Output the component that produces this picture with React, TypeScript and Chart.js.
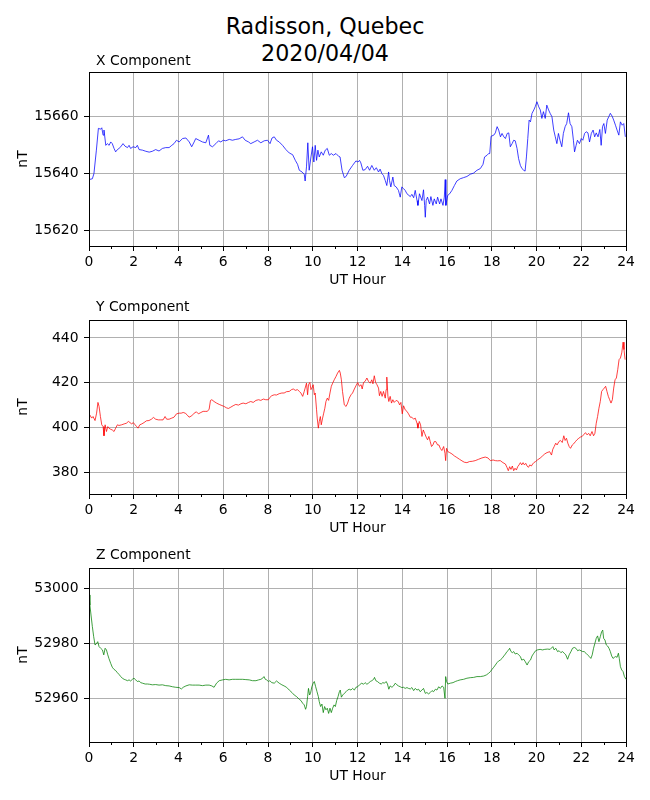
import { useEffect, useRef } from "react";
import { Chart, registerables } from "chart.js";

Chart.register(...registerables);

const FONT = "'DejaVu Sans', sans-serif";

// hour axis: labelled major ticks and unlabelled minor ticks
const hourTicks = [0, 2, 4, 6, 8, 10, 12, 14, 16, 18, 20, 22, 24];
const minorHourTicks = [1, 3, 5, 7, 9, 11, 13, 15, 17, 19, 21, 23];

const xTicks = [15620, 15640, 15660];
const yTicks = [380, 400, 420, 440];
const zTicks = [52960, 52980, 53000];

// [UT hour, nT]
const xComponent: [number, number][] = [
  [0, 15637.8], [0.15, 15638.1], [0.22, 15639.9], [0.33, 15648.2], [0.42, 15655.9], [0.52, 15655.6],
  [0.57, 15656.1], [0.63, 15653.5], [0.67, 15655.3], [0.75, 15649.9], [0.82, 15650.5], [0.9, 15649.9],
  [0.97, 15651.1], [1.04, 15650.5], [1.12, 15648.8], [1.19, 15647.6], [1.27, 15648.4], [1.34, 15648.8],
  [1.42, 15649.4], [1.52, 15650.5], [1.61, 15649.6], [1.72, 15649.1], [1.79, 15649.9], [1.86, 15648.8],
  [1.97, 15649.4], [2.09, 15649.1], [2.16, 15649.9], [2.24, 15648.4], [2.39, 15648.2], [2.54, 15647.8],
  [2.69, 15647.5], [2.83, 15647.8], [2.98, 15648.4], [3.13, 15647.9], [3.28, 15648.8], [3.43, 15649.1],
  [3.58, 15649.1], [3.7, 15649.9], [3.8, 15650.5], [3.91, 15651.7], [4.03, 15651.1], [4.18, 15652.3],
  [4.33, 15652.5], [4.48, 15651.1], [4.59, 15649.4], [4.7, 15651.1], [4.77, 15652.3], [4.92, 15651.7],
  [5.07, 15651.1], [5.22, 15650.8], [5.34, 15653.5], [5.4, 15649.9], [5.52, 15649.4], [5.67, 15650.5],
  [5.79, 15651.5], [5.89, 15651.1], [6, 15651.7], [6.11, 15651.5], [6.27, 15652.0], [6.41, 15651.7],
  [6.56, 15652.0], [6.71, 15652.2], [6.86, 15652.9], [6.98, 15651.7], [7.13, 15651.1], [7.23, 15650.5],
  [7.38, 15651.1], [7.53, 15651.7], [7.68, 15650.8], [7.83, 15651.5], [7.98, 15651.7], [8.09, 15650.5],
  [8.18, 15652.5], [8.28, 15652.9], [8.38, 15651.7], [8.5, 15651.1], [8.65, 15649.9], [8.8, 15648.4],
  [8.95, 15647.2], [9.1, 15646.6], [9.22, 15644.6], [9.32, 15643.2], [9.4, 15641.1], [9.52, 15640.5],
  [9.62, 15639.7], [9.66, 15637.3], [9.72, 15642.3], [9.78, 15650.8], [9.84, 15641.1], [9.92, 15645.8],
  [9.99, 15649.4], [10.05, 15644.0], [10.11, 15649.9], [10.17, 15644.6], [10.23, 15648.2], [10.29, 15645.8],
  [10.38, 15647.6], [10.47, 15646.4], [10.56, 15648.2], [10.65, 15648.8], [10.74, 15646.4], [10.83, 15647.0],
  [10.92, 15646.4], [11.04, 15647.0], [11.16, 15646.0], [11.22, 15645.8], [11.31, 15641.1], [11.41, 15638.5],
  [11.49, 15638.9], [11.63, 15641.1], [11.78, 15642.8], [11.93, 15644.4], [12.02, 15644.0], [12.09, 15644.6],
  [12.15, 15643.7], [12.24, 15641.1], [12.34, 15641.3], [12.45, 15642.5], [12.54, 15641.1], [12.64, 15642.8],
  [12.75, 15641.1], [12.84, 15642.0], [12.94, 15640.5], [13.01, 15641.5], [13.09, 15639.9], [13.16, 15639.3],
  [13.24, 15637.5], [13.31, 15635.7], [13.39, 15640.5], [13.43, 15637.5], [13.49, 15635.2], [13.58, 15638.7],
  [13.64, 15635.7], [13.73, 15635.2], [13.83, 15634.0], [13.91, 15631.6], [13.98, 15635.2], [14.06, 15634.6],
  [14.13, 15634.0], [14.21, 15632.8], [14.36, 15631.8], [14.43, 15632.6], [14.51, 15631.4], [14.58, 15634.0],
  [14.66, 15630.4], [14.7, 15628.7], [14.77, 15632.8], [14.88, 15630.4], [14.95, 15634.2], [15, 15628.7],
  [15.03, 15624.5], [15.07, 15630.4], [15.13, 15631.6], [15.22, 15629.2], [15.28, 15631.8], [15.37, 15628.7],
  [15.43, 15631.0], [15.52, 15629.2], [15.58, 15631.6], [15.67, 15629.2], [15.73, 15631.0], [15.82, 15628.7],
  [15.88, 15631.6], [15.92, 15637.8], [15.95, 15628.7], [16.03, 15632.2], [16.12, 15632.8], [16.22, 15634.0],
  [16.33, 15635.7], [16.44, 15637.3], [16.59, 15638.1], [16.74, 15638.5], [16.89, 15638.9], [17.04, 15639.7],
  [17.19, 15640.1], [17.34, 15641.1], [17.49, 15641.7], [17.61, 15643.2], [17.68, 15645.8], [17.79, 15646.4],
  [17.86, 15647.0], [17.91, 15647.0], [17.97, 15653.1], [18.09, 15653.5], [18.16, 15654.3], [18.24, 15656.5],
  [18.31, 15655.3], [18.39, 15652.9], [18.46, 15654.1], [18.54, 15652.9], [18.61, 15652.3], [18.69, 15654.1],
  [18.76, 15654.3], [18.83, 15649.4], [18.91, 15650.5], [18.98, 15651.7], [19.05, 15651.5], [19.13, 15648.8],
  [19.2, 15645.2], [19.28, 15642.8], [19.35, 15641.7], [19.43, 15641.1], [19.49, 15640.8], [19.55, 15645.8],
  [19.61, 15652.3], [19.67, 15658.8], [19.73, 15658.2], [19.8, 15661.2], [19.88, 15662.4], [19.94, 15663.5],
  [20.02, 15665.3], [20.1, 15663.5], [20.17, 15662.4], [20.24, 15659.4], [20.31, 15661.8], [20.39, 15659.4],
  [20.46, 15664.1], [20.54, 15662.4], [20.61, 15661.2], [20.69, 15660.0], [20.77, 15655.3], [20.84, 15652.9],
  [20.91, 15650.5], [20.98, 15654.1], [21.05, 15651.7], [21.13, 15649.4], [21.2, 15654.1], [21.28, 15656.5],
  [21.35, 15657.6], [21.43, 15661.4], [21.5, 15657.6], [21.58, 15656.5], [21.65, 15651.7], [21.7, 15647.6],
  [21.77, 15649.9], [21.83, 15651.7], [21.92, 15650.5], [22, 15652.3], [22.07, 15651.7], [22.15, 15654.1],
  [22.22, 15654.7], [22.3, 15654.3], [22.37, 15651.1], [22.45, 15654.1], [22.53, 15655.3], [22.6, 15652.9],
  [22.67, 15654.3], [22.75, 15652.9], [22.83, 15655.5], [22.89, 15649.9], [22.95, 15656.5], [23.01, 15657.6],
  [23.08, 15654.1], [23.16, 15658.8], [23.23, 15660.0], [23.3, 15661.2], [23.38, 15660.2], [23.45, 15658.8],
  [23.53, 15657.0], [23.6, 15655.3], [23.68, 15653.5], [23.75, 15658.2], [23.83, 15657.0], [23.9, 15657.6],
  [23.97, 15652.9],
];

const yComponent: [number, number][] = [
  [0.03, 405.7], [0.12, 404.2], [0.18, 404.9], [0.27, 403.1], [0.34, 406.4], [0.4, 411.2],
  [0.45, 409.4], [0.51, 404.9], [0.57, 401.2], [0.63, 400.4], [0.67, 396.3], [0.72, 401.2],
  [0.78, 398.2], [0.84, 400.4], [0.89, 399.7], [0.97, 399.2], [1.04, 398.9], [1.12, 398.2],
  [1.19, 399.7], [1.27, 401.2], [1.34, 400.9], [1.46, 401.2], [1.57, 401.6], [1.67, 401.9],
  [1.76, 402.7], [1.83, 402.2], [1.91, 401.6], [1.98, 402.2], [2.06, 401.2], [2.13, 400.4],
  [2.19, 399.7], [2.27, 401.2], [2.36, 401.6], [2.46, 402.2], [2.57, 403.0], [2.68, 403.1],
  [2.79, 403.7], [2.88, 404.5], [2.98, 403.7], [3.1, 403.4], [3.21, 403.4], [3.31, 403.4],
  [3.4, 404.9], [3.47, 403.7], [3.58, 403.7], [3.7, 404.2], [3.8, 404.6], [3.91, 406.1],
  [4.03, 406.4], [4.12, 406.4], [4.21, 406.7], [4.3, 406.4], [4.38, 405.7], [4.47, 404.6],
  [4.59, 405.2], [4.7, 406.4], [4.8, 407.0], [4.89, 406.1], [5, 406.7], [5.1, 407.2],
  [5.19, 407.2], [5.29, 407.2], [5.37, 408.2], [5.43, 412.1], [5.49, 412.4], [5.59, 411.6],
  [5.7, 410.9], [5.82, 410.3], [5.94, 409.8], [6.04, 409.4], [6.14, 408.8], [6.23, 408.5],
  [6.34, 409.1], [6.44, 409.7], [6.56, 410.3], [6.68, 410.0], [6.79, 410.6], [6.89, 410.9],
  [7.01, 410.6], [7.13, 411.2], [7.23, 411.6], [7.34, 411.2], [7.46, 412.1], [7.58, 412.4],
  [7.68, 412.1], [7.79, 412.7], [7.9, 412.4], [8.02, 412.4], [8.08, 413.4], [8.17, 414.2],
  [8.28, 414.6], [8.38, 414.5], [8.5, 415.1], [8.62, 415.4], [8.72, 415.4], [8.83, 416.0],
  [8.95, 416.1], [9.05, 416.9], [9.13, 417.2], [9.22, 416.6], [9.32, 416.9], [9.4, 416.1],
  [9.47, 415.4], [9.55, 413.9], [9.62, 416.1], [9.66, 417.6], [9.72, 419.8], [9.77, 414.6],
  [9.81, 419.1], [9.87, 420.1], [9.92, 416.9], [9.96, 417.6], [10.02, 419.1], [10.07, 414.6],
  [10.11, 415.4], [10.17, 407.9], [10.2, 404.2], [10.25, 399.7], [10.29, 402.7], [10.34, 404.9],
  [10.38, 401.2], [10.44, 404.2], [10.49, 406.4], [10.54, 408.6], [10.59, 411.6], [10.65, 413.1],
  [10.71, 412.1], [10.77, 415.4], [10.83, 418.4], [10.89, 419.8], [10.96, 421.3], [11.04, 422.8],
  [11.11, 424.3], [11.19, 425.5], [11.23, 424.3], [11.28, 421.3], [11.33, 416.1], [11.41, 410.1],
  [11.49, 409.4], [11.56, 410.9], [11.63, 413.1], [11.71, 414.6], [11.78, 415.4], [11.86, 417.2],
  [11.93, 418.6], [12.01, 420.1], [12.08, 418.4], [12.16, 419.1], [12.21, 417.2], [12.27, 420.1],
  [12.34, 420.6], [12.42, 422.1], [12.49, 420.6], [12.57, 419.8], [12.64, 421.3], [12.69, 419.5],
  [12.75, 423.1], [12.81, 420.1], [12.87, 419.1], [12.94, 417.6], [12.98, 414.2], [13.04, 416.1],
  [13.1, 413.9], [13.16, 416.1], [13.24, 413.1], [13.28, 416.9], [13.31, 422.5], [13.36, 413.9],
  [13.4, 411.6], [13.46, 413.9], [13.52, 410.9], [13.58, 412.4], [13.64, 411.2], [13.73, 412.1],
  [13.82, 411.6], [13.88, 410.1], [13.94, 411.2], [14, 406.1], [14.06, 409.7], [14.13, 407.9],
  [14.21, 407.2], [14.28, 406.1], [14.36, 404.6], [14.43, 404.6], [14.51, 403.7], [14.58, 404.2],
  [14.66, 401.9], [14.7, 399.7], [14.76, 402.7], [14.82, 401.2], [14.88, 396.0], [14.94, 398.9],
  [15, 397.4], [15.07, 395.7], [15.13, 394.5], [15.19, 396.0], [15.25, 393.7], [15.31, 391.5],
  [15.37, 392.2], [15.43, 393.7], [15.5, 393.7], [15.58, 392.2], [15.64, 392.2], [15.7, 390.7],
  [15.77, 389.7], [15.85, 391.5], [15.91, 388.5], [15.94, 385.2], [15.98, 390.7], [16.04, 389.2],
  [16.12, 388.8], [16.22, 388.2], [16.33, 387.3], [16.44, 386.6], [16.56, 385.8], [16.67, 385.1],
  [16.77, 384.5], [16.89, 384.3], [17.01, 384.8], [17.13, 384.9], [17.26, 385.2], [17.41, 385.8],
  [17.56, 386.4], [17.71, 386.8], [17.83, 386.4], [17.94, 385.2], [18.06, 385.5], [18.16, 385.2],
  [18.26, 385.1], [18.38, 385.2], [18.5, 384.3], [18.61, 383.7], [18.68, 382.2], [18.74, 380.7],
  [18.8, 382.5], [18.86, 381.3], [18.92, 382.8], [18.98, 380.7], [19.04, 381.8], [19.1, 381.0],
  [19.16, 382.5], [19.22, 383.3], [19.28, 384.3], [19.34, 383.3], [19.4, 384.3], [19.46, 383.3],
  [19.52, 384.0], [19.58, 382.8], [19.64, 382.2], [19.7, 383.3], [19.77, 382.8], [19.83, 383.7],
  [19.88, 384.3], [19.96, 384.8], [20.04, 385.5], [20.16, 386.3], [20.27, 387.3], [20.37, 388.2],
  [20.47, 388.8], [20.59, 389.2], [20.67, 387.7], [20.73, 390.3], [20.79, 391.5], [20.86, 393.0],
  [20.92, 392.2], [21, 393.7], [21.07, 394.2], [21.15, 393.3], [21.22, 396.3], [21.28, 394.2],
  [21.34, 395.2], [21.4, 393.0], [21.46, 391.5], [21.52, 390.7], [21.6, 392.2], [21.66, 392.7],
  [21.74, 393.7], [21.81, 394.5], [21.89, 395.2], [21.96, 395.7], [22.04, 396.0], [22.1, 396.7],
  [22.19, 397.7], [22.26, 396.7], [22.33, 397.4], [22.4, 396.3], [22.48, 398.2], [22.55, 396.3],
  [22.61, 397.4], [22.67, 401.9], [22.73, 404.9], [22.79, 408.6], [22.85, 411.6], [22.91, 416.1],
  [22.97, 416.9], [23.03, 417.6], [23.09, 418.4], [23.15, 416.1], [23.21, 413.9], [23.27, 412.4],
  [23.33, 410.9], [23.39, 412.4], [23.45, 417.6], [23.51, 421.3], [23.57, 422.1], [23.63, 425.8],
  [23.69, 430.3], [23.75, 431.0], [23.81, 433.3], [23.87, 438.1], [23.91, 434.8], [23.96, 430.3],
];

const zComponent: [number, number][] = [
  [0, 52997.6], [0.04, 52993.9], [0.09, 52990.3], [0.15, 52986.1], [0.21, 52982.4], [0.27, 52979.4],
  [0.33, 52979.8], [0.39, 52980.6], [0.45, 52978.8], [0.52, 52978.2], [0.6, 52977.6], [0.66, 52975.8],
  [0.72, 52978.2], [0.78, 52977.6], [0.84, 52975.8], [0.89, 52974.5], [0.97, 52972.7], [1.04, 52971.3],
  [1.12, 52970.5], [1.19, 52970.1], [1.27, 52969.3], [1.34, 52968.7], [1.42, 52967.9], [1.49, 52967.3],
  [1.57, 52966.9], [1.64, 52966.7], [1.72, 52966.4], [1.79, 52966.7], [1.86, 52966.3], [1.94, 52966.9],
  [2.01, 52967.3], [2.09, 52966.7], [2.16, 52966.1], [2.24, 52966.3], [2.31, 52965.7], [2.39, 52965.5],
  [2.51, 52965.2], [2.61, 52965.2], [2.71, 52965.1], [2.83, 52964.9], [2.98, 52965.0], [3.13, 52964.8],
  [3.28, 52964.9], [3.43, 52964.6], [3.58, 52964.5], [3.73, 52964.2], [3.88, 52964.0], [4.03, 52963.9],
  [4.13, 52963.4], [4.21, 52964.0], [4.33, 52964.5], [4.48, 52964.9], [4.62, 52964.8], [4.77, 52964.8],
  [4.92, 52964.8], [5.07, 52964.6], [5.22, 52964.8], [5.37, 52964.8], [5.49, 52964.5], [5.59, 52964.0],
  [5.7, 52965.5], [5.82, 52966.4], [5.97, 52966.7], [6.11, 52966.9], [6.26, 52966.7], [6.41, 52966.9],
  [6.56, 52966.9], [6.71, 52966.9], [6.86, 52966.9], [7.01, 52966.8], [7.16, 52966.7], [7.31, 52966.4],
  [7.46, 52966.4], [7.58, 52966.7], [7.68, 52966.9], [7.76, 52967.3], [7.82, 52967.9], [7.88, 52966.9],
  [7.94, 52966.7], [8.02, 52966.1], [8.08, 52966.4], [8.17, 52965.7], [8.28, 52965.5], [8.38, 52966.3],
  [8.5, 52965.5], [8.62, 52964.9], [8.72, 52964.5], [8.83, 52964.0], [8.95, 52963.0], [9.07, 52962.1],
  [9.17, 52961.2], [9.28, 52960.6], [9.4, 52959.6], [9.47, 52959.2], [9.55, 52958.2], [9.62, 52957.6],
  [9.68, 52956.0], [9.72, 52957.0], [9.77, 52960.6], [9.81, 52963.6], [9.86, 52961.2], [9.9, 52961.8],
  [9.96, 52964.2], [10.02, 52965.5], [10.07, 52966.1], [10.13, 52964.2], [10.19, 52962.4], [10.25, 52960.6],
  [10.29, 52958.8], [10.35, 52957.0], [10.41, 52957.9], [10.47, 52954.8], [10.53, 52957.0], [10.59, 52955.8],
  [10.65, 52956.4], [10.71, 52954.5], [10.77, 52956.4], [10.83, 52954.8], [10.89, 52956.4], [10.95, 52957.6],
  [11.01, 52957.0], [11.07, 52959.2], [11.13, 52960.6], [11.19, 52962.4], [11.23, 52963.0], [11.28, 52960.4],
  [11.34, 52961.2], [11.41, 52961.8], [11.49, 52962.4], [11.56, 52963.0], [11.63, 52963.3], [11.71, 52963.0],
  [11.78, 52963.6], [11.86, 52963.0], [11.93, 52964.0], [12.01, 52964.2], [12.09, 52964.9], [12.19, 52965.5],
  [12.27, 52965.1], [12.34, 52965.7], [12.42, 52965.1], [12.49, 52965.5], [12.57, 52966.1], [12.64, 52966.4],
  [12.72, 52966.9], [12.76, 52967.6], [12.82, 52966.4], [12.89, 52966.1], [12.98, 52965.5], [13.06, 52965.2],
  [13.13, 52965.7], [13.21, 52965.5], [13.28, 52966.1], [13.34, 52965.2], [13.4, 52963.3], [13.46, 52964.5],
  [13.54, 52964.0], [13.61, 52964.5], [13.69, 52965.5], [13.76, 52964.9], [13.83, 52964.5], [13.91, 52964.2],
  [13.98, 52963.9], [14.06, 52964.0], [14.13, 52963.6], [14.21, 52963.9], [14.28, 52963.6], [14.36, 52963.4],
  [14.43, 52963.9], [14.51, 52962.8], [14.58, 52963.6], [14.66, 52963.0], [14.73, 52963.3], [14.8, 52962.4],
  [14.88, 52963.0], [14.95, 52963.6], [15.03, 52961.8], [15.1, 52962.1], [15.18, 52961.6], [15.25, 52962.1],
  [15.33, 52962.8], [15.4, 52962.4], [15.48, 52963.3], [15.55, 52963.0], [15.63, 52964.2], [15.7, 52963.6],
  [15.78, 52964.5], [15.85, 52964.0], [15.91, 52960.0], [15.94, 52967.9], [15.98, 52966.1], [16.04, 52965.2],
  [16.15, 52965.5], [16.27, 52965.7], [16.37, 52966.1], [16.47, 52966.4], [16.59, 52966.7], [16.74, 52966.9],
  [16.89, 52967.3], [17.04, 52967.5], [17.19, 52967.6], [17.34, 52967.9], [17.49, 52967.9], [17.64, 52968.1],
  [17.76, 52968.5], [17.86, 52969.1], [17.94, 52969.7], [18.01, 52970.5], [18.09, 52971.3], [18.16, 52972.1],
  [18.24, 52973.0], [18.31, 52973.6], [18.38, 52973.9], [18.46, 52974.5], [18.54, 52975.4], [18.61, 52976.1],
  [18.68, 52977.0], [18.76, 52977.6], [18.8, 52978.2], [18.86, 52977.0], [18.92, 52976.6], [18.98, 52977.0],
  [19.05, 52976.1], [19.13, 52976.4], [19.2, 52975.8], [19.28, 52975.2], [19.34, 52973.9], [19.43, 52974.2],
  [19.5, 52973.3], [19.58, 52972.1], [19.65, 52973.3], [19.73, 52973.9], [19.8, 52975.4], [19.88, 52976.4],
  [19.96, 52977.3], [20.04, 52977.6], [20.16, 52977.8], [20.27, 52977.6], [20.37, 52977.8], [20.49, 52977.9],
  [20.61, 52977.8], [20.73, 52978.8], [20.79, 52977.6], [20.86, 52978.2], [20.94, 52977.0], [21.01, 52977.3],
  [21.09, 52976.6], [21.16, 52977.0], [21.24, 52976.4], [21.31, 52975.8], [21.39, 52974.2], [21.46, 52975.8],
  [21.54, 52977.0], [21.61, 52978.2], [21.69, 52978.5], [21.76, 52978.2], [21.84, 52977.3], [21.91, 52977.6],
  [21.99, 52977.3], [22.06, 52977.0], [22.13, 52977.0], [22.21, 52976.4], [22.28, 52975.8], [22.36, 52975.2],
  [22.43, 52974.5], [22.49, 52975.8], [22.55, 52978.2], [22.61, 52980.0], [22.67, 52981.8], [22.73, 52982.7],
  [22.79, 52980.6], [22.85, 52982.4], [22.91, 52984.2], [22.96, 52984.8], [23, 52981.8], [23.06, 52981.2],
  [23.12, 52979.4], [23.18, 52979.0], [23.24, 52978.2], [23.3, 52977.0], [23.36, 52975.4], [23.42, 52974.5],
  [23.48, 52974.9], [23.54, 52975.2], [23.6, 52974.9], [23.66, 52976.4], [23.7, 52974.5], [23.75, 52971.5],
  [23.81, 52970.3], [23.87, 52969.7], [23.93, 52967.9], [24, 52966.9],
];

// black frame round the plot area plus the short minor hour ticks
const framePlugin = {
  id: "frame",
  afterDraw(chart: Chart) {
    const { ctx, chartArea: a, scales } = chart;
    ctx.save();
    ctx.strokeStyle = "#000";
    ctx.lineWidth = 1;
    ctx.strokeRect(Math.round(a.left) + 0.5, Math.round(a.top) + 0.5, Math.round(a.right - a.left), Math.round(a.bottom - a.top));
    ctx.beginPath();
    for (const h of minorHourTicks) {
      const px = Math.round(scales.x.getPixelForValue(h)) + 0.5;
      ctx.moveTo(px, a.bottom);
      ctx.lineTo(px, a.bottom + 3);
    }
    ctx.stroke();
    ctx.restore();
  },
};

type PanelProps = {
  title: string;
  titleTop: number;
  top: number;
  data: [number, number][];
  color: string;
  ticks: number[];
  min: number;
  max: number;
};

function Panel({ title, titleTop, top, data, color, ticks, min, max }: PanelProps) {
  const ref = useRef<HTMLCanvasElement>(null);

  useEffect(() => {
    if (!ref.current) return;
    const tickFont = { family: FONT, size: 13.9 };
    const grid = { color: "#b0b0b0", lineWidth: 1, tickColor: "#000", tickLength: 5, tickWidth: 1 };

    const chart = new Chart(ref.current, {
      type: "line",
      data: {
        datasets: [{
          data: data.map(([x, y]) => ({ x, y })),
          borderColor: color,
          borderWidth: 0.75,
          pointRadius: 0,
          tension: 0,
        }],
      },
      options: {
        animation: false,
        responsive: true,
        maintainAspectRatio: false,
        layout: { padding: { top: 14, right: 24, bottom: 0, left: 0 } },
        plugins: { legend: { display: false }, tooltip: { enabled: false } },
        scales: {
          x: {
            type: "linear",
            min: 0,
            max: 24,
            afterBuildTicks: (s) => { s.ticks = hourTicks.map((value) => ({ value })); },
            afterFit: (s) => { s.height = 43; },
            grid,
            border: { display: false },
            ticks: { color: "#000", font: tickFont, padding: 3, maxRotation: 0, autoSkip: false, callback: (v) => String(v) },
            title: { display: true, text: "UT Hour", color: "#000", font: tickFont, padding: 0 },
          },
          y: {
            type: "linear",
            min,
            max,
            afterBuildTicks: (s) => { s.ticks = ticks.map((value) => ({ value })); },
            afterFit: (s) => { s.width = 89; },
            grid,
            border: { display: false },
            ticks: { color: "#000", font: tickFont, padding: 5.5, callback: (v) => String(v) },
            title: { display: true, text: "nT", color: "#000", font: tickFont, padding: { top: 15.5, bottom: 0 } },
          },
        },
      },
      plugins: [framePlugin],
    });

    return () => chart.destroy();
  }, []);

  return (
    <>
      <div style={{ position: "absolute", left: 0, top, width: 650, height: 231 }}>
        <canvas ref={ref} />
      </div>
      <div style={{ position: "absolute", left: 96, top: titleTop, fontFamily: FONT, fontSize: 13.9, lineHeight: "16px", whiteSpace: "nowrap" }}>
        {title}
      </div>
    </>
  );
}

export default function App() {
  return (
    <div style={{ position: "absolute", left: 0, top: 0, width: 650, height: 800, background: "#fff", fontFamily: FONT, color: "#000" }}>
      <div style={{ position: "absolute", left: 0, top: 13, width: 650, textAlign: "center", fontSize: 22.2, lineHeight: "26.6px" }}>
        Radisson, Quebec
        <br />
        2020/04/04
      </div>
      <Panel title="X Component" titleTop={51.5} top={58} data={xComponent} color="#0000ff" ticks={xTicks} min={15614.35} max={15675.8} />
      <Panel title="Y Component" titleTop={298} top={306} data={yComponent} color="#ff0000" ticks={yTicks} min={370.3} max={448.0} />
      <Panel title="Z Component" titleTop={546} top={554} data={zComponent} color="#008000" ticks={zTicks} min={52944.1} max={53007.4} />
    </div>
  );
}
